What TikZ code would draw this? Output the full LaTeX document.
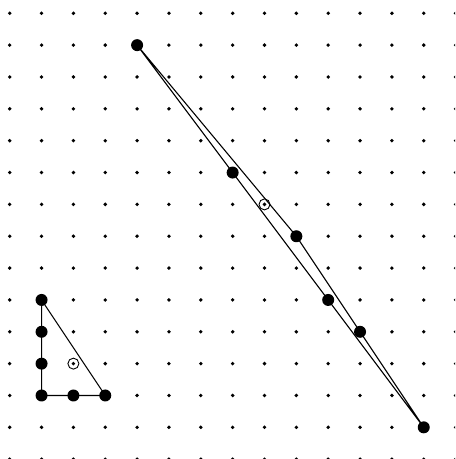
\documentclass[tikz,border=0pt]{standalone}
\begin{document}
\begin{tikzpicture}[x=31.85pt,y=-31.85pt,
  griddot/.style={fill=black,radius=1.9pt},
  bigdot/.style={fill=black,radius=6pt},
  ring/.style={draw=black,line width=0.9pt,radius=5.5pt},
  edge/.style={draw=black,line width=1.1pt,line join=round}]
\useasboundingbox (-0.3046,-0.4176) rectangle (13.986,13.994);
\begin{scope}
\clip (-0.3046,-0.4176) rectangle (13.986,13.994);
\foreach \i in {0,...,14}{
  \foreach \j in {0,...,14}{
    \fill[griddot] (\i,\j) circle;
  }
}
\end{scope}
% big triangle
\coordinate (A) at (4,1);
\coordinate (B) at (9,7);
\coordinate (C) at (13,13);
\coordinate (P1) at (7,5);
\coordinate (P2) at (10,9);
\coordinate (P3) at (11,10);
\coordinate (Q) at (8,6);
% small triangle
\coordinate (a) at (1,9);
\coordinate (b) at (1,12);
\coordinate (c) at (3,12);
\coordinate (p1) at (1,10);
\coordinate (p2) at (1,11);
\coordinate (p3) at (2,12);
\coordinate (q) at (2,11);
\draw[edge] (A) -- (B) -- (C) -- cycle;
\draw[edge] (a) -- (b) -- (c) -- cycle;
\foreach \p in {A,B,C,P1,P2,P3,a,b,c,p1,p2,p3}{
  \fill[bigdot] (\p) circle;
}
\draw[ring] (Q) circle;
\draw[ring] (q) circle;
\end{tikzpicture}
\end{document}
